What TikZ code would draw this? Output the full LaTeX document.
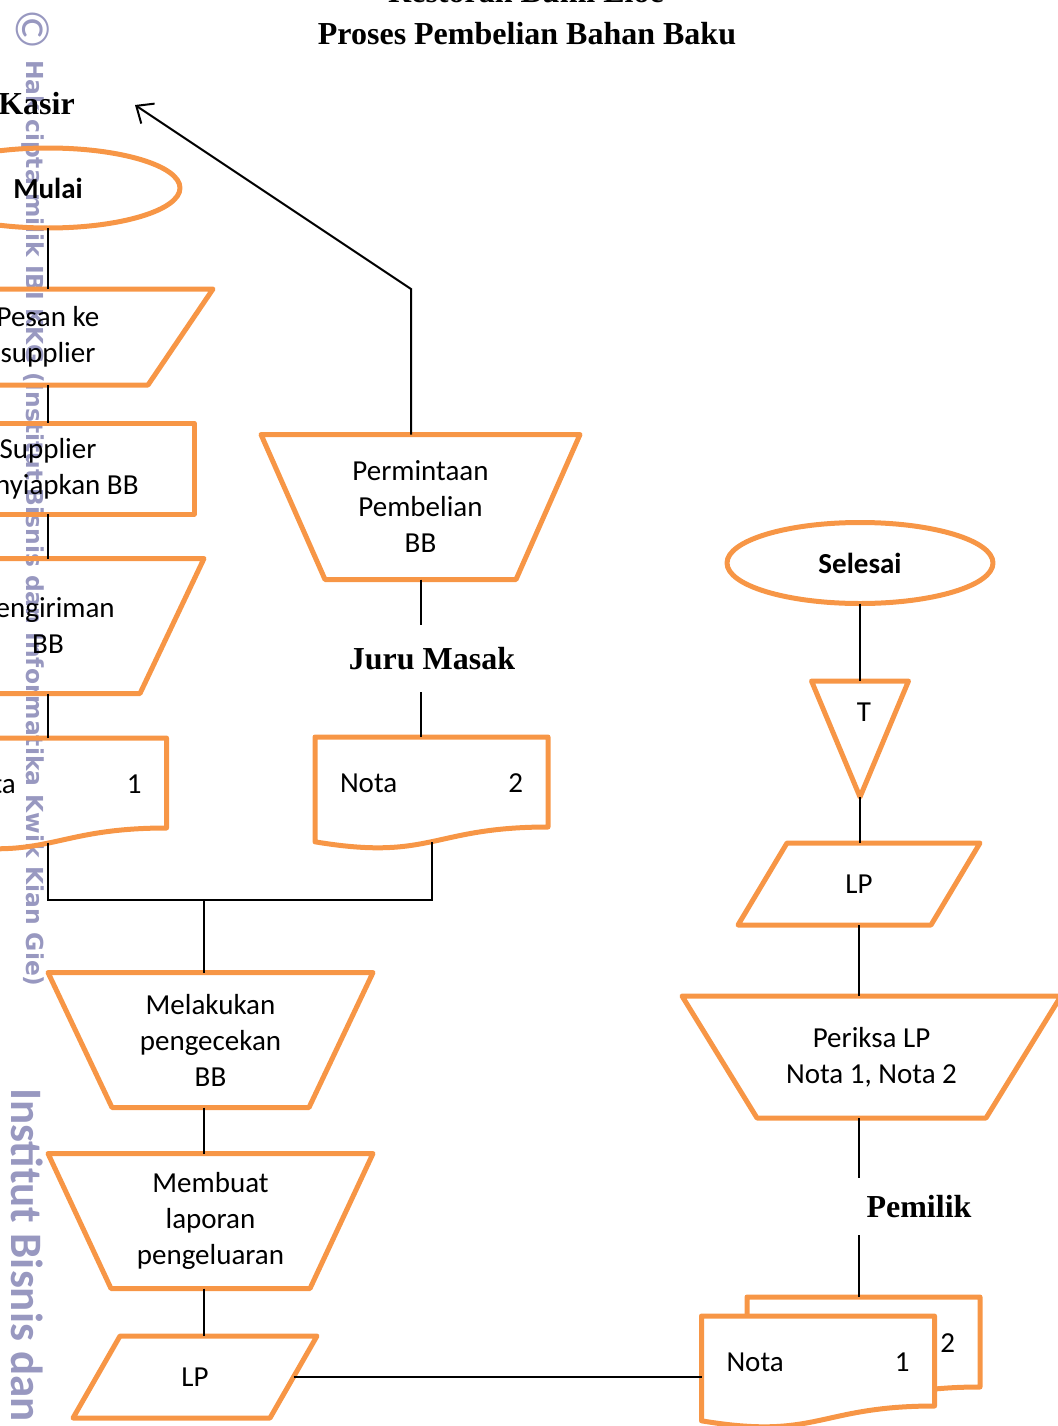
\documentclass[tikz,border=0pt]{standalone}
\usepackage{fontspec}
\setmainfont{Carlito}
\newfontfamily\tnr{Liberation Serif}
\newfontfamily\djv{DejaVu Sans}
\usetikzlibrary{shapes.geometric,arrows.meta,calc}

\definecolor{oranye}{RGB}{247,150,70}
\definecolor{ungu}{RGB}{152,152,192}

\tikzset{
  fc/.style={draw=oranye, line width=5pt, line join=round, inner sep=0pt, outer sep=0pt, align=center},
  kotak/.style={inner sep=0pt, outer sep=0pt, align=center},
  ln/.style={draw=black, line width=2pt},
  bagian/.style={font=\tnr\bfseries\fontsize{32}{40}\selectfont, inner sep=0pt},
  doc/.style={text width=183, inner sep=0pt},
  tanda/.style={text=ungu, inner sep=0pt, rotate=-90},
}

% dokumen: nama, x, y, nomor
\newcommand{\notadoc}[5][]{%
  \draw[fc,#1,shift={(#3,#4)}] (-116.5,-46) -- (116.5,-46) -- (116.5,44)
    .. controls (0,44) and (0,78.3) .. (-116.5,58.8) -- cycle;
  \node[doc] (#2) at (#3,#4) {\noindent Nota\hfill #5};
  \coordinate (#2-t) at ($(#2)+(0,-46)$);
  \coordinate (#2-w) at ($(#2)+(0,58.7)$);
  \coordinate (#2-l) at ($(#2)+(-116.5,0)$);
}
% operasi manual (trapesium terbalik)
\newcommand{\manop}[2]{\draw[fc] (#1.north west) -- (#1.north east) -- ([xshift=-#2]#1.south east) -- ([xshift=#2]#1.south west) -- cycle;}
% input / output
\newcommand{\miring}[2]{%
  \draw[fc] ([xshift=#2]#1.north west) -- (#1.north east) -- ([xshift=-#2]#1.south east) -- (#1.south west) -- cycle;
  \coordinate (#1-e) at ([xshift=-0.5*#2]#1.east);}
\newcommand{\tridown}[1]{\draw[fc] (#1.north west) -- (#1.north east) -- (#1.south) -- cycle;}

\begin{document}
\begin{tikzpicture}[x=1pt, y=-1pt, font=\fontsize{29}{36}\selectfont]
	\useasboundingbox (0,0) rectangle (1057,1426);

	% watermark
	\node[tanda, font=\fontsize{48}{50}\selectfont] (hak) at (33,30) {©};
	\node[tanda, anchor=west, font=\djv\bfseries\fontsize{23.4}{28}\selectfont] (hakcipta) at (33,60)
		{Hak cipta milik IBI KKG (Institut Bisnis dan Informatika Kwik Kian Gie)};
	\node[tanda, anchor=west, font=\bfseries\fontsize{45}{50}\selectfont] (ibi) at (27,1088) {Institut Bisnis dan};

	\node[bagian, anchor=base] (judul1) at (526,3)  {Restoran Bumi Eloe};
	\node[bagian, anchor=base] (judul2) at (527,45) {Proses Pembelian Bahan Baku};

	% kasir
	\node[bagian, anchor=base] (kasir) at (36.5,114) {Kasir};
	\node[fc, shape=ellipse, minimum width=264, minimum height=80] (mulai) at (48,188) {\textbf{Mulai}};
	\node[kotak, minimum width=330, minimum height=96] (pesan) at (48,337) {Pesan ke\\supplier};
	\manop{pesan}{65}
	\node[fc, minimum width=292, minimum height=91] (siap) at (48,468.5) {Supplier\\menyiapkan BB};
	\node[kotak, minimum width=312, minimum height=135] (kirim) at (48,626) {Pengiriman\\BB};
	\manop{kirim}{64}
	\notadoc{nota1}{50}{784}{1}

	% juru masak
	\node[kotak, minimum width=319, minimum height=145] (minta) at (420.5,507) {Permintaan\\Pembelian\\BB};
	\manop{minta}{64}
	\node[bagian, minimum height=67] (juru) at (432,658.5) {Juru Masak};
	\notadoc{nota2}{431.5}{783}{2}
	\coordinate (belok) at (411,289);
	\coordinate (ujung) at (135,105);
	\coordinate (temu) at (204,900);

	\node[kotak, minimum width=325, minimum height=135] (cek) at (210.5,1040) {Melakukan\\pengecekan\\BB};
	\manop{cek}{64}
	\node[kotak, minimum width=325, minimum height=135] (lapor) at (210.5,1221) {Membuat\\laporan\\pengeluaran};
	\manop{lapor}{63}
	\node[kotak, minimum width=244, minimum height=82] (lpkiri) at (195,1377) {LP};
	\miring{lpkiri}{47}

	% pemilik
	\node[fc, shape=ellipse, minimum width=266, minimum height=81] (selesai) at (860,563) {\textbf{Selesai}};
	\node[kotak, minimum width=97, minimum height=116] (arsip) at (860,739) {};
	\tridown{arsip}
	\node (arsipT) at (864,712) {T};
	\node[kotak, minimum width=242, minimum height=82] (lpkanan) at (859,884) {LP};
	\miring{lpkanan}{49}
	\node[kotak, minimum width=379, minimum height=122] (periksa) at (871.5,1057) {Periksa LP\\Nota 1, Nota 2};
	\manop{periksa}{75}
	\node[bagian, minimum height=57] (pemilik) at (919,1206.5) {Pemilik};
	\notadoc{notaB}{863.5}{1343}{2}
	\notadoc[fill=white]{notaA}{818}{1362}{1}

	\path[ln] (mulai) edge (pesan);
	\path[ln] (pesan) edge (siap);
	\path[ln] (siap) edge (kirim);
	\path[ln] (kirim) edge (kirim |- nota1-t);
	\draw[ln] (nota1-w -| kirim) -- (kirim |- temu) -- (nota2-w |- temu) -- (nota2-w);
	\draw[ln] (temu) -- (temu |- cek.north);
	\draw[ln] (cek.south -| temu) -- (lapor.north -| temu);
	\draw[ln] (lapor.south -| temu) -- (lpkiri.north -| temu);
	\draw[ln] (lpkiri-e) -- (lpkiri-e -| notaA-l);

	\draw[ln] (minta.south) -- (minta.south |- juru.north);
	\draw[ln] (juru.south -| minta.south) -- (nota2-t -| minta.south);
	\draw[ln, -{Straight Barb[length=14pt, width=24pt]}] (belok |- minta.north) -- (belok) -- (ujung);

	\path[ln] (selesai) edge (arsip);
	\draw[ln] (arsip.south) -- (arsip.south |- lpkanan.north);
	\draw[ln] (lpkanan.south) -- (lpkanan.south |- periksa.north);
	\draw[ln] (periksa.south -| lpkanan) -- (pemilik.north -| lpkanan);
	\draw[ln] (pemilik.south -| lpkanan) -- (notaB-t -| lpkanan);

\end{tikzpicture}
\end{document}
